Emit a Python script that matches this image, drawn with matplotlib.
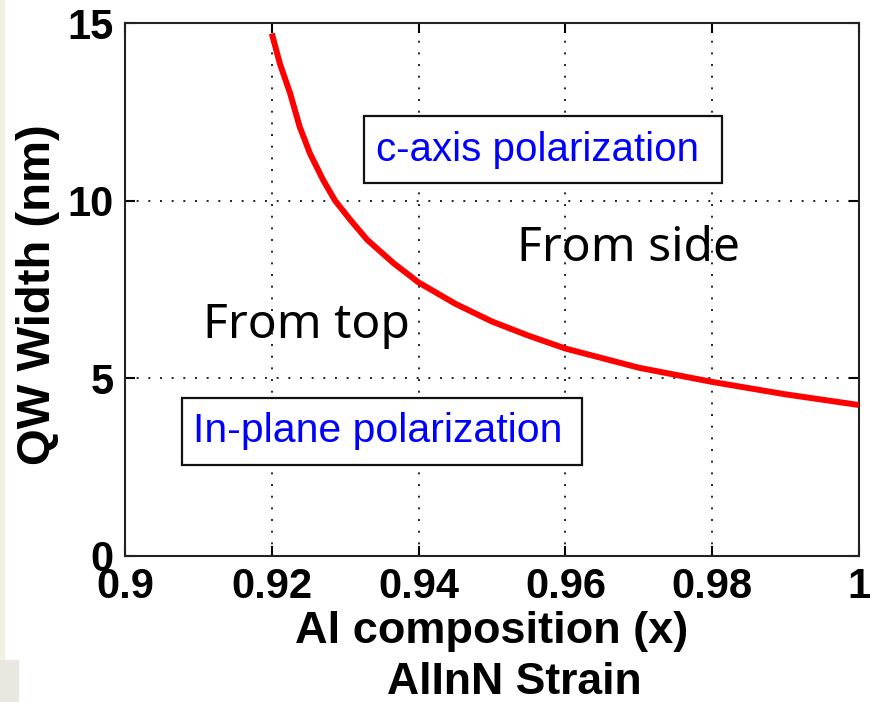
import matplotlib
matplotlib.use("Agg")
import matplotlib.pyplot as plt
from matplotlib.patches import Rectangle

# values
al_x = [0.9200, 0.9211, 0.9225, 0.9238, 0.9252, 0.9270, 0.9286, 0.9307,
        0.9330, 0.9366, 0.9400, 0.9450, 0.9500, 0.9550, 0.9600, 0.9700,
        0.9800, 0.9900, 1.0000]
qw_width = [14.71, 13.86, 13.02, 12.08, 11.33, 10.58, 10.01, 9.46,
            8.90, 8.24, 7.70, 7.10, 6.60, 6.20, 5.84, 5.30,
            4.90, 4.55, 4.25]

x_ticks = [0.9, 0.92, 0.94, 0.96, 0.98, 1.0]
x_ticklabels = ["0.9", "0.92", "0.94", "0.96", "0.98", "1"]
y_ticks = [0, 5, 10, 15]

plt.rcParams['font.family'] = ['Liberation Sans', 'DejaVu Sans']

fig = plt.figure(figsize=(8.76, 7.02), dpi=100)
ax = fig.add_axes([0.1427, 0.208, 0.838, 0.759])

# slide background bits on the left edge
fig.patches.append(Rectangle((0, 0.06), 0.005, 0.94, transform=fig.transFigure,
                             color='#f3f1e4', zorder=0))
fig.patches.append(Rectangle((0, 0), 0.02, 0.06, transform=fig.transFigure,
                             color='#e9e7df', zorder=0))

ax.plot(al_x, qw_width, color='red', lw=4.3, solid_capstyle='butt',
        solid_joinstyle='round', zorder=3)

ax.set_xlim(0.9, 1.0)
ax.set_ylim(0, 15)
ax.set_xticks(x_ticks)
ax.set_xticklabels(x_ticklabels)
ax.set_yticks(y_ticks)

ax.grid(True, color='#222222', linestyle=(0, (1, 5)), lw=1.4)
ax.tick_params(direction='in', length=7, width=1.5, top=True, right=True,
               labelsize=30, pad=8)
for lab in ax.get_xticklabels() + ax.get_yticklabels():
    lab.set_fontweight('bold')
for sp in ax.spines.values():
    sp.set_linewidth(1.5)
    sp.set_color('#222222')

ax.set_xlabel('Al composition (x)', fontsize=32.5, fontweight='bold')
ax.xaxis.set_label_coords(0.5, -0.103)
ax.xaxis.label.set_va('top')
ax.text(0.53, -0.238, 'AlInN Strain', transform=ax.transAxes, fontsize=32,
        fontweight='bold', ha='center', va='center')

ax.set_ylabel('QW Width (nm)', fontsize=34, fontweight='bold')
ax.yaxis.label.set_va('center')
ax.yaxis.set_label_coords(-0.118, 0.49)

# annotation boxes
ax.add_patch(Rectangle((0.3256, 0.6998), 0.4878, 0.1257, transform=ax.transAxes,
                       fill=True, facecolor='white', edgecolor='#111111', lw=1.6, zorder=4))
ax.text(0.5613, 0.7617, 'c-axis polarization', transform=ax.transAxes,
        color='blue', fontsize=29, ha='center', va='center', zorder=5)

ax.add_patch(Rectangle((0.0777, 0.1707), 0.5449, 0.1257, transform=ax.transAxes,
                       fill=True, facecolor='white', edgecolor='#111111', lw=1.6, zorder=4))
ax.text(0.344, 0.2345, 'In-plane polarization', transform=ax.transAxes,
        color='blue', fontsize=29.5, ha='center', va='center', zorder=5)

ax.text(0.534, 0.578, 'From side', transform=ax.transAxes, fontsize=34.5,
        family=['Noto Sans', 'DejaVu Sans'], ha='left', va='center', zorder=5)
ax.text(0.106, 0.433, 'From top', transform=ax.transAxes, fontsize=34.5,
        family=['Noto Sans', 'DejaVu Sans'], ha='left', va='center', zorder=5)

fig.savefig('out.png', dpi=100)
